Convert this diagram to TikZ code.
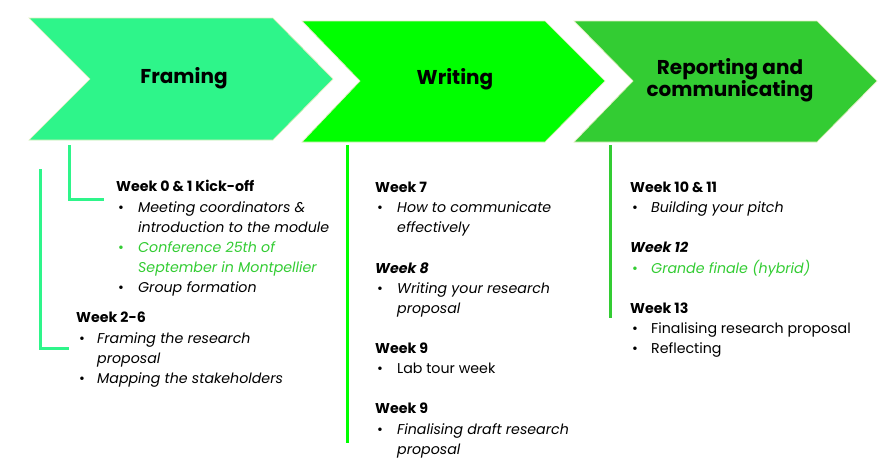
\documentclass[tikz,border=0pt]{standalone}
\usepackage{fontspec}
\setmainfont{Poppins}
\newfontfamily\titlefont{Poppins}
\definecolor{cA}{RGB}{46,245,138}
\definecolor{cB}{RGB}{0,255,0}
\definecolor{cC}{RGB}{51,204,51}
\definecolor{edge}{RGB}{225,238,190}
\begin{document}
\begin{tikzpicture}[x=1pt,y=-1pt,
  chev/.style={draw=edge,line width=0.7pt},
  ttl/.style={font=\titlefont\bfseries\fontsize{20}{20}\selectfont,align=center,inner sep=0pt},
  hdr/.style={anchor=base west,inner sep=0pt,font=\fontsize{14.2}{20}\selectfont\bfseries},
  hdi/.style={hdr,font=\fontsize{14.2}{20}\selectfont\bfseries\itshape},
  itm/.style={anchor=base west,inner sep=0pt,font=\fontsize{14.2}{20}\selectfont\itshape},
  itu/.style={anchor=base west,inner sep=0pt,font=\fontsize{14.2}{20}\selectfont},
  bul/.style={anchor=base west,inner sep=0pt,font=\fontsize{14.2}{20}\selectfont},
  link/.style={line width=3pt}
]
\useasboundingbox (0,0) rectangle (884,464);
% chevrons
\fill[cA,chev] (29,18) -- (273,18) -- (333,79) -- (273,140) -- (29,140) -- (90,79) -- cycle;
\fill[cB,chev] (302,21) -- (545,21) -- (605,81) -- (545,142) -- (302,142) -- (360,81) -- cycle;
\fill[cC,chev] (574,21) -- (817,21) -- (877,81) -- (817,142) -- (574,142) -- (633,81) -- cycle;
\node[ttl] (t1) at (184,78) {Framing};
\node[ttl] (t2) at (455,79) {Writing};
\node[ttl] (t3) at (730,80) {Reporting and\\communicating};

% column 1
\coordinate (a1) at (69,145);
\coordinate (a2) at (69,199);
\coordinate (a3) at (104,199);
\draw[cA,link] (a1) -- (a2) -- (a3);
\coordinate (b1) at (40,169);
\coordinate (b2) at (40,348);
\coordinate (b3) at (69,348);
\draw[cA,link] (b1) -- (b2) -- (b3);

\node[hdr] (w01) at (116,191) {Week 0 \& 1 Kick-off};
\node[bul] (b011) at (118,212) {•};
\node[itm] (i011) at (138,212) {Meeting coordinators \&};
\node[itm] (i012) at (138,232) {introduction to the module};
\node[bul,cC] (b012) at (118,252) {•};
\node[itm,cC] (i013) at (138,252) {Conference 25th of};
\node[itm,cC] (i014) at (138,272) {September in Montpellier};
\node[bul] (b013) at (118,292) {•};
\node[itm] (i015) at (138,292) {Group formation};

\node[hdr] (w26) at (76,322) {Week 2-6};
\node[bul] (b261) at (79,343) {•};
\node[itm] (i261) at (97,343) {Framing the research};
\node[itm] (i262) at (97,363) {proposal};
\node[bul] (b262) at (79,383) {•};
\node[itm] (i263) at (97,383) {Mapping the stakeholders};

% column 2
\coordinate (c1) at (347,145);
\coordinate (c2) at (347,443);
\draw[cB,link] (c1) -- (c2);
\node[hdr] (w7) at (375,192) {Week 7};
\node[bul] (b71) at (377,212) {•};
\node[itm] (i71) at (397,212) {How to communicate};
\node[itm] (i72) at (397,232) {effectively};
\node[hdi] (w8) at (375,273) {Week 8};
\node[bul] (b81) at (377,293) {•};
\node[itm] (i81) at (397,293) {Writing your research};
\node[itm] (i82) at (397,313) {proposal};
\node[hdr] (w9a) at (375,353) {Week 9};
\node[bul] (b91) at (377,373) {•};
\node[itu] (i91) at (397,373) {Lab tour week};
\node[hdr] (w9b) at (375,413) {Week 9};
\node[bul] (b92) at (377,434) {•};
\node[itm] (i92) at (397,434) {Finalising draft research};
\node[itm] (i93) at (397,454) {proposal};

% column 3
\coordinate (d1) at (610,145);
\coordinate (d2) at (610,318);
\draw[cC,link] (d1) -- (d2);
\node[hdr] (w1011) at (630,192) {Week 10 \& 11};
\node[bul] (b101) at (632,212) {•};
\node[itm] (i101) at (651,212) {Building your pitch};
\node[hdi] (w12) at (630,252) {Week 12};
\node[bul,cC] (b121) at (632,273) {•};
\node[itm,cC] (i121) at (651,273) {Grande finale (hybrid)};
\node[hdr] (w13) at (630,313) {Week 13};
\node[bul] (b131) at (632,333) {•};
\node[itu] (i131) at (651,333) {Finalising research proposal};
\node[bul] (b132) at (632,353) {•};
\node[itu] (i132) at (651,353) {Reflecting};
\end{tikzpicture}
\end{document}
